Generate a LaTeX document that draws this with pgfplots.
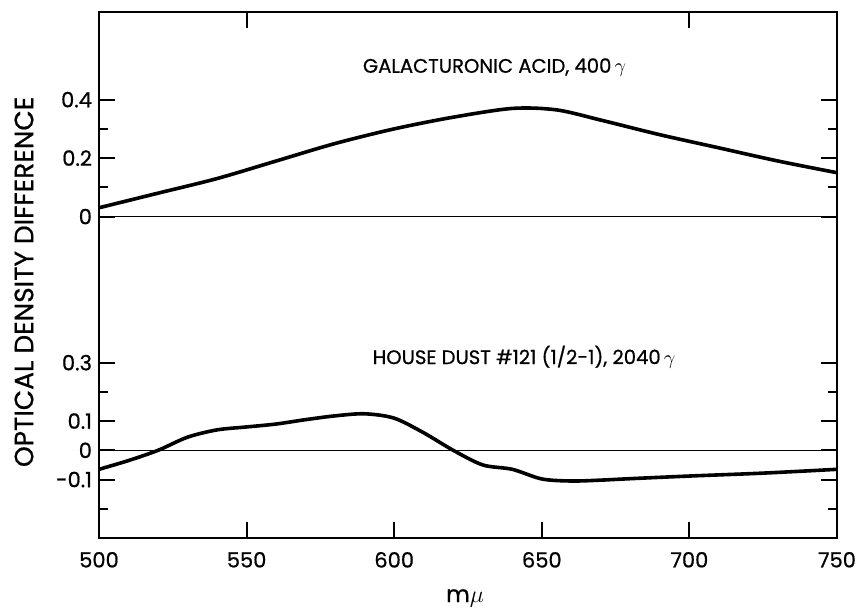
\documentclass[border=0pt]{standalone}
\usepackage{fontspec}
\setmainfont{Poppins}[FakeBold=0.7]
\usepackage{pgfplots}
\usepackage{pgfplotstable}
\pgfplotsset{compat=1.18}
\usetikzlibrary{calc}

\pgfplotstableread{
x v
500 0.03
520 0.08
540 0.13
560 0.19
580 0.25
600 0.30
620 0.34
640 0.37
655 0.365
670 0.33
690 0.28
710 0.235
730 0.19
750 0.15
}\galact

\pgfplotstableread{
x v
500 -0.065
510 -0.035
520 0.0
530 0.045
540 0.07
550 0.08
560 0.09
570 0.105
580 0.118
590 0.125
600 0.11
610 0.06
620 0.0
630 -0.05
640 -0.065
650 -0.098
660 -0.105
670 -0.102
680 -0.097
700 -0.088
725 -0.078
750 -0.065
}\dust

\begin{document}
\begin{tikzpicture}
\begin{axis}[
  scale only axis, width=369pt, height=263pt,
  xmin=500, xmax=750, ymin=-0.3, ymax=1.5,
  axis line style={line width=1.1pt},
  xtick={500,550,600,650,700,750},
  xticklabels={500,550,600,650,700,750},
  xtick pos=bottom,
  ytick={-0.1,0,0.1,0.3,0.8,1.0,1.2},
  yticklabels={-0.1,0,0.1,0.3,0,0.2,0.4},
  minor ytick={-0.2,0.2,0.9,1.1},
  yticklabel pos=left,
  major tick length=8pt, minor tick length=4.5pt,
  every tick/.style={black, line width=1pt},
  tick label style={font=\fontsize{10.5}{12}\selectfont},
  xticklabel style={yshift=-3.5pt},
  clip=false,
]
\addplot[black, line width=0.8pt] coordinates {(500,0) (750,0)};
\addplot[black, line width=0.8pt] coordinates {(500,0.8) (750,0.8)};
\addplot[black, line width=1.8pt, smooth] table[x=x, y expr=\thisrow{v}+0.8] {\galact};
\addplot[black, line width=1.8pt, smooth] table[x=x, y=v] {\dust};
\draw[line width=1pt] (axis cs:550,1.5) -- (axis cs:550,1.445);
\draw[line width=1pt] (axis cs:700,1.5) -- (axis cs:700,1.445);
\node[font=\fontsize{9.8}{11}\selectfont] at (axis cs:634,1.31) {GALACTURONIC ACID, 400\,$\gamma$};
\node[font=\fontsize{9.8}{11}\selectfont] at (axis cs:644,0.32) {HOUSE DUST \#121 (1/2-1), 2040\,$\gamma$};
\end{axis}
\node[rotate=90, font=\fontsize{13.2}{15}\selectfont] at ($(current axis.south west)!0.487!(current axis.north west)+(-37.5pt,0)$) {OPTICAL DENSITY DIFFERENCE};
\node[font=\fontsize{11.5}{13}\selectfont] at ($(current axis.south west)!0.496!(current axis.south east)+(0,-30pt)$) {m$\mu$};
\pgfresetboundingbox
\path[use as bounding box] ($(current axis.south west)+(-49.5pt,-37.5pt)$) rectangle ($(current axis.north east)+(15pt,6pt)$);
\end{tikzpicture}
\end{document}
